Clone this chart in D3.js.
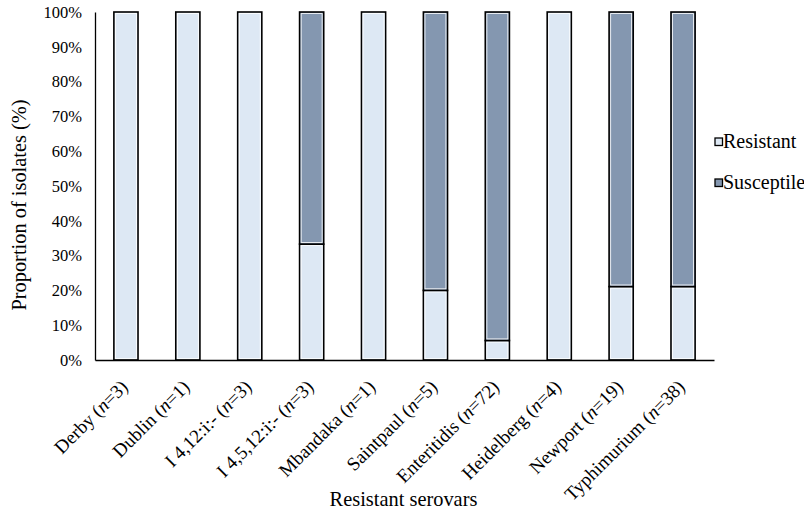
<!DOCTYPE html>
<html>
<head>
<meta charset="utf-8">
<script src="https://cdn.jsdelivr.net/npm/d3@7"></script>
<style>
  body { margin: 0; background: #fff; }
</style>
</head>
<body>
<div id="chart"></div>
<script>
// serovar names and isolate counts
const serovars = ['Derby', 'Dublin', 'I 4,12:i:-', 'I 4,5,12:i:-', 'Mbandaka',
                  'Saintpaul', 'Enteritidis', 'Heidelberg', 'Newport', 'Typhimurium'];
const counts   = [3, 1, 3, 3, 1, 5, 72, 4, 19, 38];
// share of resistant isolates (%), rest is susceptible
const resistant = [100, 100, 100, 33.3, 100, 20, 5.6, 100, 21.1, 21.1];
const yTicks = [0, 10, 20, 30, 40, 50, 60, 70, 80, 90, 100];
const seriesNames = ['Resistant', 'Susceptile'];
const colors = { Resistant: '#dde8f4', Susceptile: '#8497b0' };

const FONT = '"Liberation Serif", "Times New Roman", "DejaVu Serif", serif';
const W = 804, H = 514;
const margin = { top: 12, right: 90, bottom: 154, left: 95 };
const iw = W - margin.left - margin.right;
const ih = H - margin.top - margin.bottom;

const rows = serovars.map((s, i) => ({
  key: s, n: counts[i], Resistant: resistant[i], Susceptile: 100 - resistant[i]
}));

const svg = d3.select('#chart').append('svg')
  .attr('width', W).attr('height', H)
  .attr('font-family', FONT);
const g = svg.append('g').attr('transform', `translate(${margin.left},${margin.top})`);

const x = d3.scaleBand().domain(serovars).range([0, iw])
  .paddingInner(0.61).paddingOuter(0.305);
const y = d3.scaleLinear().domain([0, 100]).range([ih, 0]);

const stacked = d3.stack().keys(seriesNames)(rows);

const segs = g.selectAll('g.layer')
  .data(stacked)
  .join('g')
  .attr('class', 'layer')
  .selectAll('g')
  .data(d => d.filter(p => p[1] - p[0] > 0).map(p => Object.assign(p, { layer: d.key })))
  .join('g');

segs.append('rect')
  .attr('x', d => x(d.data.key))
  .attr('y', d => y(d[1]))
  .attr('width', x.bandwidth())
  .attr('height', d => y(d[0]) - y(d[1]))
  .attr('fill', d => colors[d.layer])
  .attr('stroke', '#000')
  .attr('stroke-width', 1.6);

// thin white inner edge, as in the original export
segs.append('rect')
  .attr('x', d => x(d.data.key) + 1.6)
  .attr('y', d => y(d[1]) + 1.6)
  .attr('width', x.bandwidth() - 3.2)
  .attr('height', d => Math.max(0, y(d[0]) - y(d[1]) - 3.2))
  .attr('fill', 'none')
  .attr('stroke', '#fff')
  .attr('stroke-width', 0.8);

// y axis
const yAxis = g.append('g')
  .call(d3.axisLeft(y).tickValues(yTicks).tickSize(0).tickPadding(13).tickFormat(d => d + '%'));
yAxis.attr('font-family', FONT);
yAxis.select('.domain').attr('stroke', '#000').attr('stroke-width', 1.3);
yAxis.selectAll('text').attr('font-size', 16.5).attr('fill', '#000');

// x axis
const xAxis = g.append('g').attr('transform', `translate(0,${ih})`)
  .call(d3.axisBottom(x).tickSize(0).tickFormat(''));
xAxis.select('.domain').attr('stroke', '#000').attr('stroke-width', 1.6);

// rotated category labels with italic n
rows.forEach(r => {
  const cx = x(r.key) + x.bandwidth() / 2 + 3;
  const t = g.append('text')
    .attr('transform', `translate(${cx},${ih + 28}) rotate(-45)`)
    .attr('text-anchor', 'end')
    .attr('font-family', FONT)
    .attr('font-size', 19);
  t.append('tspan').text(r.key + ' (');
  t.append('tspan').attr('font-style', 'italic').text('n');
  t.append('tspan').text('=' + r.n + ')');
});

// axis titles
svg.append('text')
  .attr('transform', `translate(25.5,205) rotate(-90)`)
  .attr('text-anchor', 'middle')
  .attr('font-size', 20.4)
  .text('Proportion of isolates (%)');
svg.append('text')
  .attr('x', 403.5).attr('y', 506)
  .attr('text-anchor', 'middle')
  .attr('font-size', 20.4)
  .text('Resistant serovars');

// legend
const lg = svg.append('g').attr('transform', 'translate(715,138)');
seriesNames.forEach((s, i) => {
  const row = lg.append('g').attr('transform', `translate(0,${i * 41})`);
  row.append('rect').attr('width', 7.5).attr('height', 7.5)
    .attr('fill', colors[s]).attr('stroke', '#000').attr('stroke-width', 1.3);
  row.append('text').attr('x', 8).attr('y', 10).attr('font-size', 20).text(s);
});
</script>
</body>
</html>
